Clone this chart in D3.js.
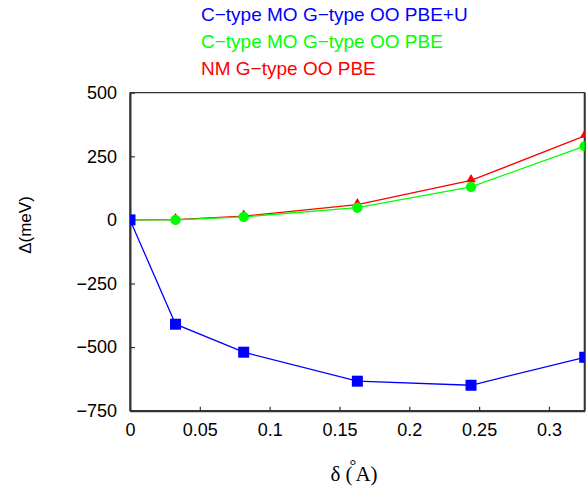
<!DOCTYPE html>
<html lang="en">
<head>
    <meta charset="UTF-8">
    <title>Delta vs delta</title>
    <script type="text/javascript" src="https://cdn.jsdelivr.net/npm/d3@7"></script>
    <style>
        body { margin: 0; background: #fff; }
    </style>
</head>
<body>
<script type="text/javascript">
    var w = 586;
    var h = 487;

    // data
    var delta = [0, 0.0326, 0.0814, 0.1628, 0.2442, 0.3256];
    var pbeU = [0, -410, -520, -634, -650, -540];     // C-type MO G-type OO PBE+U
    var pbeC = [0, 0, 12, 48, 130, 290];              // C-type MO G-type OO PBE
    var pbeNM = [0, 1, 15, 60, 155, 330];             // NM G-type OO PBE
    var legendNames = ["C\u2212type MO G\u2212type OO PBE+U", "C\u2212type MO G\u2212type OO PBE", "NM G\u2212type OO PBE"];
    var colors = ["#0000ff", "#00ff00", "#ff0000"];
    var yTicks = [-750, -500, -250, 0, 250, 500];
    var xTicks = [0, 0.05, 0.1, 0.15, 0.2, 0.25, 0.3];

    var sans = "'Liberation Sans', Arial, Helvetica, sans-serif";
    var serif = "'Liberation Serif', 'Times New Roman', serif";

    var margin = {left: 130, top: 92.7, right: 1.3, bottom: 76.3};
    var pw = w - margin.left - margin.right;
    var ph = h - margin.top - margin.bottom;

    var svg = d3.select("body")
        .append("svg")
        .attr("width", w)
        .attr("height", h);

    var x = d3.scaleLinear().domain([0, 0.3256]).range([0, pw]);
    var y = d3.scaleLinear().domain([-750, 500]).range([ph, 0]);

    var g = svg.append("g")
        .attr("transform", "translate(" + margin.left + "," + margin.top + ")");

    svg.append("defs").append("clipPath")
        .attr("id", "clip")
        .append("rect")
        .attr("width", pw)
        .attr("height", ph);

    // frame
    g.append("rect")
        .attr("width", pw)
        .attr("height", ph)
        .attr("fill", "none")
        .attr("stroke", "#000")
        .attr("stroke-width", 1);

    var yAxis = g.append("g")
        .call(d3.axisLeft(y).tickValues(yTicks).tickSizeInner(-5).tickSizeOuter(0).tickPadding(13));
    var xAxis = g.append("g")
        .attr("transform", "translate(0," + ph + ")")
        .call(d3.axisBottom(x).tickValues(xTicks).tickSizeInner(-4).tickSizeOuter(0).tickPadding(13)
            .tickFormat(function (d) { return +d.toFixed(2); }));

    [yAxis, xAxis].forEach(function (a) {
        a.attr("font-family", sans).attr("font-size", 18);
        a.select(".domain").attr("stroke", "#333").attr("stroke-width", 2);
        a.selectAll(".tick line").attr("stroke", "#333").attr("stroke-width", 1.2);
        a.selectAll("text").attr("fill", "#000");
    });

    // right border is a heavier line
    g.append("line")
        .attr("x1", pw).attr("x2", pw)
        .attr("y1", 0).attr("y2", ph)
        .attr("stroke", "#333")
        .attr("stroke-width", 2);

    var plot = g.append("g").attr("clip-path", "url(#clip)");

    var series = [pbeNM, pbeC, pbeU];
    var serColors = [colors[2], colors[1], colors[0]];

    var line = d3.line()
        .x(function (d, i) { return x(delta[i]); })
        .y(function (d) { return y(d); });

    series.forEach(function (s, k) {
        plot.append("path")
            .datum(s)
            .attr("d", line)
            .attr("fill", "none")
            .attr("stroke", serColors[k])
            .attr("stroke-width", 1.3);
    });

    // red triangles
    plot.selectAll(".tri")
        .data(pbeNM).enter()
        .append("path")
        .attr("class", "tri")
        .attr("d", d3.symbol().type(d3.symbolTriangle).size(40))
        .attr("transform", function (d, i) {
            return "translate(" + x(delta[i]) + "," + (y(d) - 1) + ")";
        })
        .attr("fill", colors[2]);

    // green circles
    plot.selectAll(".dot")
        .data(pbeC).enter()
        .append("circle")
        .attr("class", "dot")
        .attr("cx", function (d, i) { return x(delta[i]); })
        .attr("cy", function (d) { return y(d); })
        .attr("r", 5.2)
        .attr("fill", colors[1]);

    // blue squares
    plot.selectAll(".sq")
        .data(pbeU).enter()
        .append("rect")
        .attr("class", "sq")
        .attr("x", function (d, i) { return x(delta[i]) - 5.5; })
        .attr("y", function (d) { return y(d) - 5.5; })
        .attr("width", 11)
        .attr("height", 11)
        .attr("fill", colors[0]);

    // legend
    svg.selectAll(".leg")
        .data(legendNames).enter()
        .append("text")
        .attr("class", "leg")
        .attr("x", 201)
        .attr("y", function (d, i) { return 21 + i * 27; })
        .attr("font-family", sans)
        .attr("font-size", 19)
        .attr("fill", function (d, i) { return colors[i]; })
        .text(function (d) { return d; });

    // y label
    svg.append("text")
        .attr("transform", "translate(31,225) rotate(-90)")
        .attr("text-anchor", "middle")
        .attr("font-family", sans)
        .attr("font-size", 17)
        .text("\u0394(meV)");

    // x label: delta (A with ring overstruck, gnuplot style)
    var xl = svg.append("text")
        .attr("x", 354)
        .attr("y", 481)
        .attr("text-anchor", "middle")
        .attr("font-family", serif)
        .attr("font-size", 21);
    xl.append("tspan").text("\u03b4 (");
    xl.append("tspan").attr("dx", -3).attr("dy", -10).attr("font-size", 17).text("\u00b0");
    xl.append("tspan").attr("dx", -1).attr("dy", 10).text("A)");
</script>
</body>
</html>
